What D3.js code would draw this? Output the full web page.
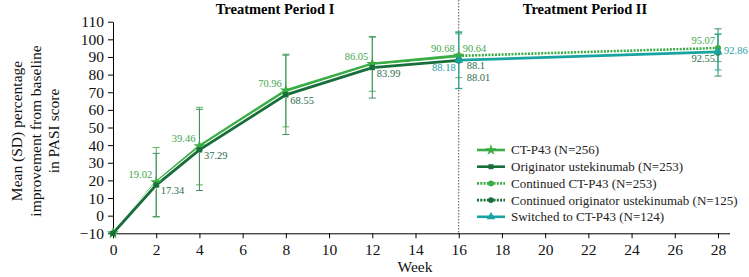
<!DOCTYPE html>
<html>
<head>
<meta charset="utf-8">
<script src="https://cdn.jsdelivr.net/npm/d3@7"></script>
<style>
  body { margin: 0; background: #fff; }
  svg text { font-family: "Liberation Serif", "Times New Roman", serif; }
</style>
</head>
<body>
<div id="chart"></div>
<script>
// Period I (weeks 0-16)
const weeksP1 = [0, 2, 4, 8, 12, 16];
const ctp43 = [-10, 19.02, 39.46, 70.96, 86.05, 90.68];
const ctp43Sd = [null, 19.6, 22, 20.6, 15.5, 12.4];
const orig = [-10, 17.34, 37.29, 68.55, 83.99, 88.01];
const origSd = [null, 18, 23, 22.5, 17.3, 16];

// Period II (weeks 16-28)
const weeksP2 = [16, 28];
const contCt = [90.64, 95.07];
const contCtSd = [null, 7.7];
const contOrig = [88.1, 92.55];
const contOrigSd = [null, 13.4];
const switched = [88.18, 92.86];
const switchedSd = [16, 10.2];

const xTicks = d3.range(0, 29, 2);
const yTicks = d3.range(-10, 111, 10);
const periods = ["Treatment Period I", "Treatment Period II"];
const legendNames = ["CT-P43 (N=256)", "Originator ustekinumab (N=253)", "Continued CT-P43 (N=253)",
                     "Continued originator ustekinumab (N=125)", "Switched to CT-P43 (N=124)"];

const light = "#3aad45", dark = "#186e3b", teal = "#17a39f";

const width = 749, height = 277;
const svg = d3.select("#chart").append("svg")
    .attr("width", width).attr("height", height);

const x = d3.scaleLinear().domain([0, 28]).range([113, 718]);
const y = d3.scaleLinear().domain([-10, 110]).range([233.3, 21.7]);

// period divider
svg.append("line")
    .attr("x1", x(16)).attr("x2", x(16))
    .attr("y1", 0).attr("y2", y(-10))
    .attr("stroke", "#555").attr("stroke-width", 1)
    .attr("stroke-dasharray", "1.5,1.5");

// axes
const xAxis = svg.append("g")
    .attr("transform", `translate(0,${y(-10)})`)
    .call(d3.axisBottom(x).tickValues(xTicks).tickSize(5).tickPadding(4).tickSizeOuter(0));
xAxis.select(".domain").attr("d", `M${x(0)},0.5H730`);
const yAxis = svg.append("g")
    .attr("transform", `translate(${x(0)},0)`)
    .call(d3.axisLeft(y).tickValues(yTicks).tickSize(5).tickPadding(4).tickSizeOuter(0));
svg.selectAll(".tick text").attr("font-size", 15.5).attr("fill", "#111");
xAxis.selectAll(".tick text").attr("dy", "0.85em");

// titles
svg.append("text").attr("x", 275).attr("y", 14).attr("text-anchor", "middle")
    .attr("font-size", 14.5).attr("font-weight", "bold").text(periods[0]);
svg.append("text").attr("x", 585).attr("y", 14).attr("text-anchor", "middle")
    .attr("font-size", 14.5).attr("font-weight", "bold").text(periods[1]);
svg.append("text").attr("x", 415).attr("y", 272).attr("text-anchor", "middle")
    .attr("font-size", 15.5).attr("fill", "#111").text("Week");
const yTitle = svg.append("text").attr("transform", "translate(0,131) rotate(-90)")
    .attr("text-anchor", "middle").attr("font-size", 15.5).attr("fill", "#111");
["Mean (SD) percentage", "improvement from baseline", "in PASI score"].forEach((t, i) => {
  yTitle.append("tspan").attr("x", 0).attr("y", 22 + i * 18.5).text(t);
});

// series definitions
const series = [
  {weeks: weeksP1, vals: ctp43, sd: ctp43Sd, color: light, barColor: "#56b85c", dash: null, sym: d3.symbolStar, size: 45,
   lab: {anchor: "end", dx: -4, dy: -4}, labColor: "#45a84d"},
  {weeks: weeksP1, vals: orig, sd: origSd, color: dark, barColor: "#3f8f5f", dash: null, sym: d3.symbolSquare, size: 28,
   lab: {anchor: "start", dx: 4.5, dy: 9}, labColor: "#2d6e4a"},
  {weeks: weeksP2, vals: contCt, sd: contCtSd, color: light, barColor: "#56b85c", dash: "2,1.3", sym: d3.symbolCircle, size: 30,
   lab: {anchor: null}, labColor: "#45a84d"},
  {weeks: weeksP2, vals: contOrig, sd: contOrigSd, color: dark, barColor: "#3f8f5f", dash: "2,1.3", sym: d3.symbolCircle, size: 30,
   lab: {anchor: null}, labColor: "#2d6e4a"},
  {weeks: weeksP2, vals: switched, sd: switchedSd, color: teal, barColor: "#2aa6a2", dash: null, sym: d3.symbolTriangle, size: 35,
   lab: {anchor: null}, labColor: "#1f9fa6"}
];

// label placement for individual points: [anchor, dx, dy]
const labelPlace = {
  "1-5": ["start", 8, 21],
  "2-0": ["start", 4, -4], "2-1": ["end", -3, -4],
  "3-0": ["start", 8, 9], "3-1": ["end", -3, 10],
  "4-0": ["end", -3, 11], "4-1": ["start", 6, 2]
};

// error bars
series.forEach(s => {
  s.weeks.forEach((w, i) => {
    if (s.sd[i] == null) return;
    const g = svg.append("g").attr("stroke", s.barColor).attr("stroke-width", 1);
    const lo = y(s.vals[i] - s.sd[i]), hi = y(s.vals[i] + s.sd[i]);
    g.append("line").attr("x1", x(w)).attr("x2", x(w)).attr("y1", lo).attr("y2", hi);
    [lo, hi].forEach(v => g.append("line")
        .attr("x1", x(w) - 3.5).attr("x2", x(w) + 3.5).attr("y1", v).attr("y2", v));
  });
});

// lines
const line = d3.line().x(d => x(d[0])).y(d => y(d[1]));
series.forEach(s => {
  const pts = s.weeks.map((w, i) => [w, s.vals[i]]);
  if (!s.dash) {
    svg.append("path").attr("d", line(pts)).attr("fill", "none")
        .attr("stroke", "#fff").attr("stroke-width", 5);
  }
  svg.append("path").attr("d", line(pts)).attr("fill", "none")
      .attr("stroke", s.color).attr("stroke-width", s.dash ? 2.6 : 2.8)
      .attr("stroke-dasharray", s.dash);
});

// markers
series.forEach(s => {
  svg.append("g").selectAll("path")
    .data(s.weeks.map((w, i) => [w, s.vals[i]]))
    .join("path")
    .attr("transform", d => `translate(${x(d[0])},${y(d[1])})`)
    .attr("d", d3.symbol().type(s.sym).size(s.size))
    .attr("fill", s.color);
});

// value labels
series.forEach((s, si) => {
  s.weeks.forEach((w, i) => {
    if (w === 0) return;
    const place = labelPlace[si + "-" + i] || [s.lab.anchor, s.lab.dx, s.lab.dy];
    svg.append("text")
        .attr("x", x(w) + place[1]).attr("y", y(s.vals[i]) + place[2])
        .attr("text-anchor", place[0])
        .attr("font-size", 10.5).attr("fill", s.labColor)
        .text(String(s.vals[i]));
  });
});

// legend
const legend = svg.selectAll(".legend")
    .data(series)
    .join("g")
    .attr("class", "legend")
    .attr("transform", (d, i) => `translate(477,${150 + i * 16.7})`);
legend.append("line").attr("x1", 0).attr("x2", 28).attr("y1", 0).attr("y2", 0)
    .attr("stroke", d => d.color).attr("stroke-width", 2.6)
    .attr("stroke-dasharray", d => d.dash);
legend.append("path").attr("transform", "translate(14,0)")
    .attr("d", d => d3.symbol().type(d.sym).size(d.size * 0.9)())
    .attr("fill", d => d.color);
legend.append("text").attr("x", 34).attr("y", 4.4)
    .attr("font-size", 13).attr("fill", "#222")
    .text((d, i) => legendNames[i]);
</script>
</body>
</html>
